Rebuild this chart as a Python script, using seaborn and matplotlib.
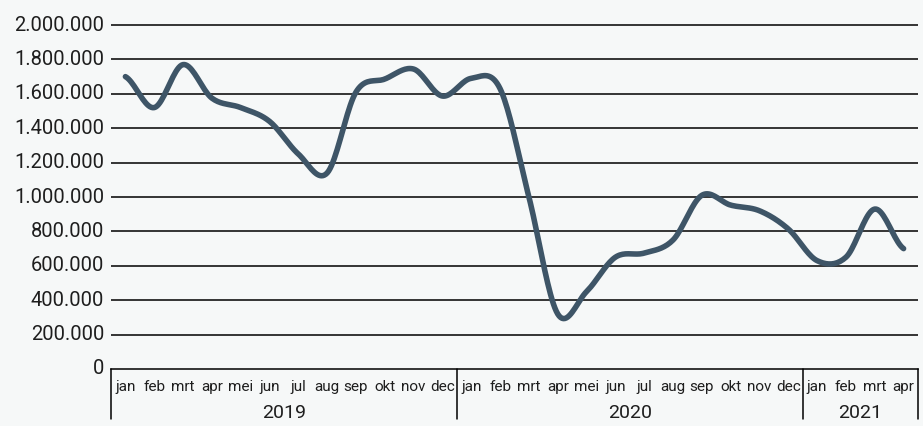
import numpy as np
import pandas as pd
import matplotlib
matplotlib.use("Agg")
import matplotlib.pyplot as plt
import matplotlib.transforms as mtransforms
import seaborn as sns

# monthly values (Dutch month labels), Jan 2019 - Apr 2021
months = ["jan", "feb", "mrt", "apr", "mei", "jun", "jul", "aug", "sep", "okt", "nov", "dec",
          "jan", "feb", "mrt", "apr", "mei", "jun", "jul", "aug", "sep", "okt", "nov", "dec",
          "jan", "feb", "mrt", "apr"]
years = ["2019", "2020", "2021"]
months_per_year = [12, 12, 4]
values = [1700000, 1520000, 1770000, 1575000, 1520000, 1440000, 1250000, 1140000,
          1610000, 1686000, 1744000, 1587000,
          1690000, 1630000, 1000000, 320000, 450000, 650000, 674000, 750000,
          1010000, 953000, 920000, 814000,
          630000, 650000, 930000, 700000]

bg = "#f6f8f8"
line_color = "#3e5567"
text_color = "#1e1e1e"

sns.set_style("white")
plt.rcParams["font.family"] = ["Roboto", "DejaVu Sans"]


def smooth(y, steps=20):
    """Excel-like smoothed line (uniform Catmull-Rom between the monthly points)"""
    y = np.asarray(y, dtype=float)
    p = np.concatenate([[y[0]], y, [y[-1]]])
    xs, ys = [], []
    for i in range(len(y) - 1):
        p0, p1, p2, p3 = p[i], p[i + 1], p[i + 2], p[i + 3]
        t = np.linspace(0, 1, steps, endpoint=False)
        c1 = p1 + (p2 - p0) / 6
        c2 = p2 - (p3 - p1) / 6
        yy = (1 - t) ** 3 * p1 + 3 * (1 - t) ** 2 * t * c1 + 3 * (1 - t) * t ** 2 * c2 + t ** 3 * p2
        xs.extend(i + t)
        ys.extend(yy)
    xs.append(len(y) - 1)
    ys.append(y[-1])
    return pd.DataFrame({"x": xs, "y": ys})


df = smooth(values)

fig = plt.figure(figsize=(9.23, 4.27), dpi=100, facecolor=bg)
ax = fig.add_axes([111 / 923, 1 - 370 / 427, 807 / 923, 347.4 / 427])
ax.set_facecolor(bg)

for v in range(200000, 2000001, 200000):
    ax.axhline(v, color="black", lw=1.1, zorder=1)

sns.lineplot(data=df, x="x", y="y", ax=ax, color=line_color, lw=4,
             solid_capstyle="round", zorder=3)

ax.set_xlim(-0.5, len(months) - 0.5)
ax.set_ylim(0, 2020000)
ax.set_yticks(range(0, 2000001, 200000))
ax.set_yticklabels([f"{v:,}".replace(",", ".") for v in range(0, 2000001, 200000)],
                   fontsize=14.5, color=text_color)
ax.tick_params(axis="y", length=0, pad=5)
# y labels sit a little above their gridlines
shift = mtransforms.ScaledTranslation(0, 3 / 100, fig.dpi_scale_trans)
for lab in ax.get_yticklabels():
    lab.set_transform(lab.get_transform() + shift)

ax.set_xticks(range(len(months)))
ax.set_xticklabels(months, fontsize=11, color=text_color)
ax.tick_params(axis="x", length=0, pad=7)
ax.set_xlabel("")
ax.set_ylabel("")

for s in ["top", "right", "left"]:
    ax.spines[s].set_visible(False)
ax.spines["bottom"].set_color("black")
ax.spines["bottom"].set_linewidth(1.1)

# year groups below month labels
trans = mtransforms.blended_transform_factory(ax.transData, ax.transAxes)
bounds = np.concatenate([[0], np.cumsum(months_per_year)]) - 0.5
for b in bounds:
    ax.plot([b, b], [0, -0.145], color="black", lw=1.1, transform=trans, clip_on=False)
for yr, a, b in zip(years, bounds[:-1], bounds[1:]):
    ax.text((a + b) / 2, -0.125, yr, transform=trans, ha="center", va="center",
            fontsize=14, color=text_color)

fig.savefig("out.png", dpi=100, facecolor=bg)
